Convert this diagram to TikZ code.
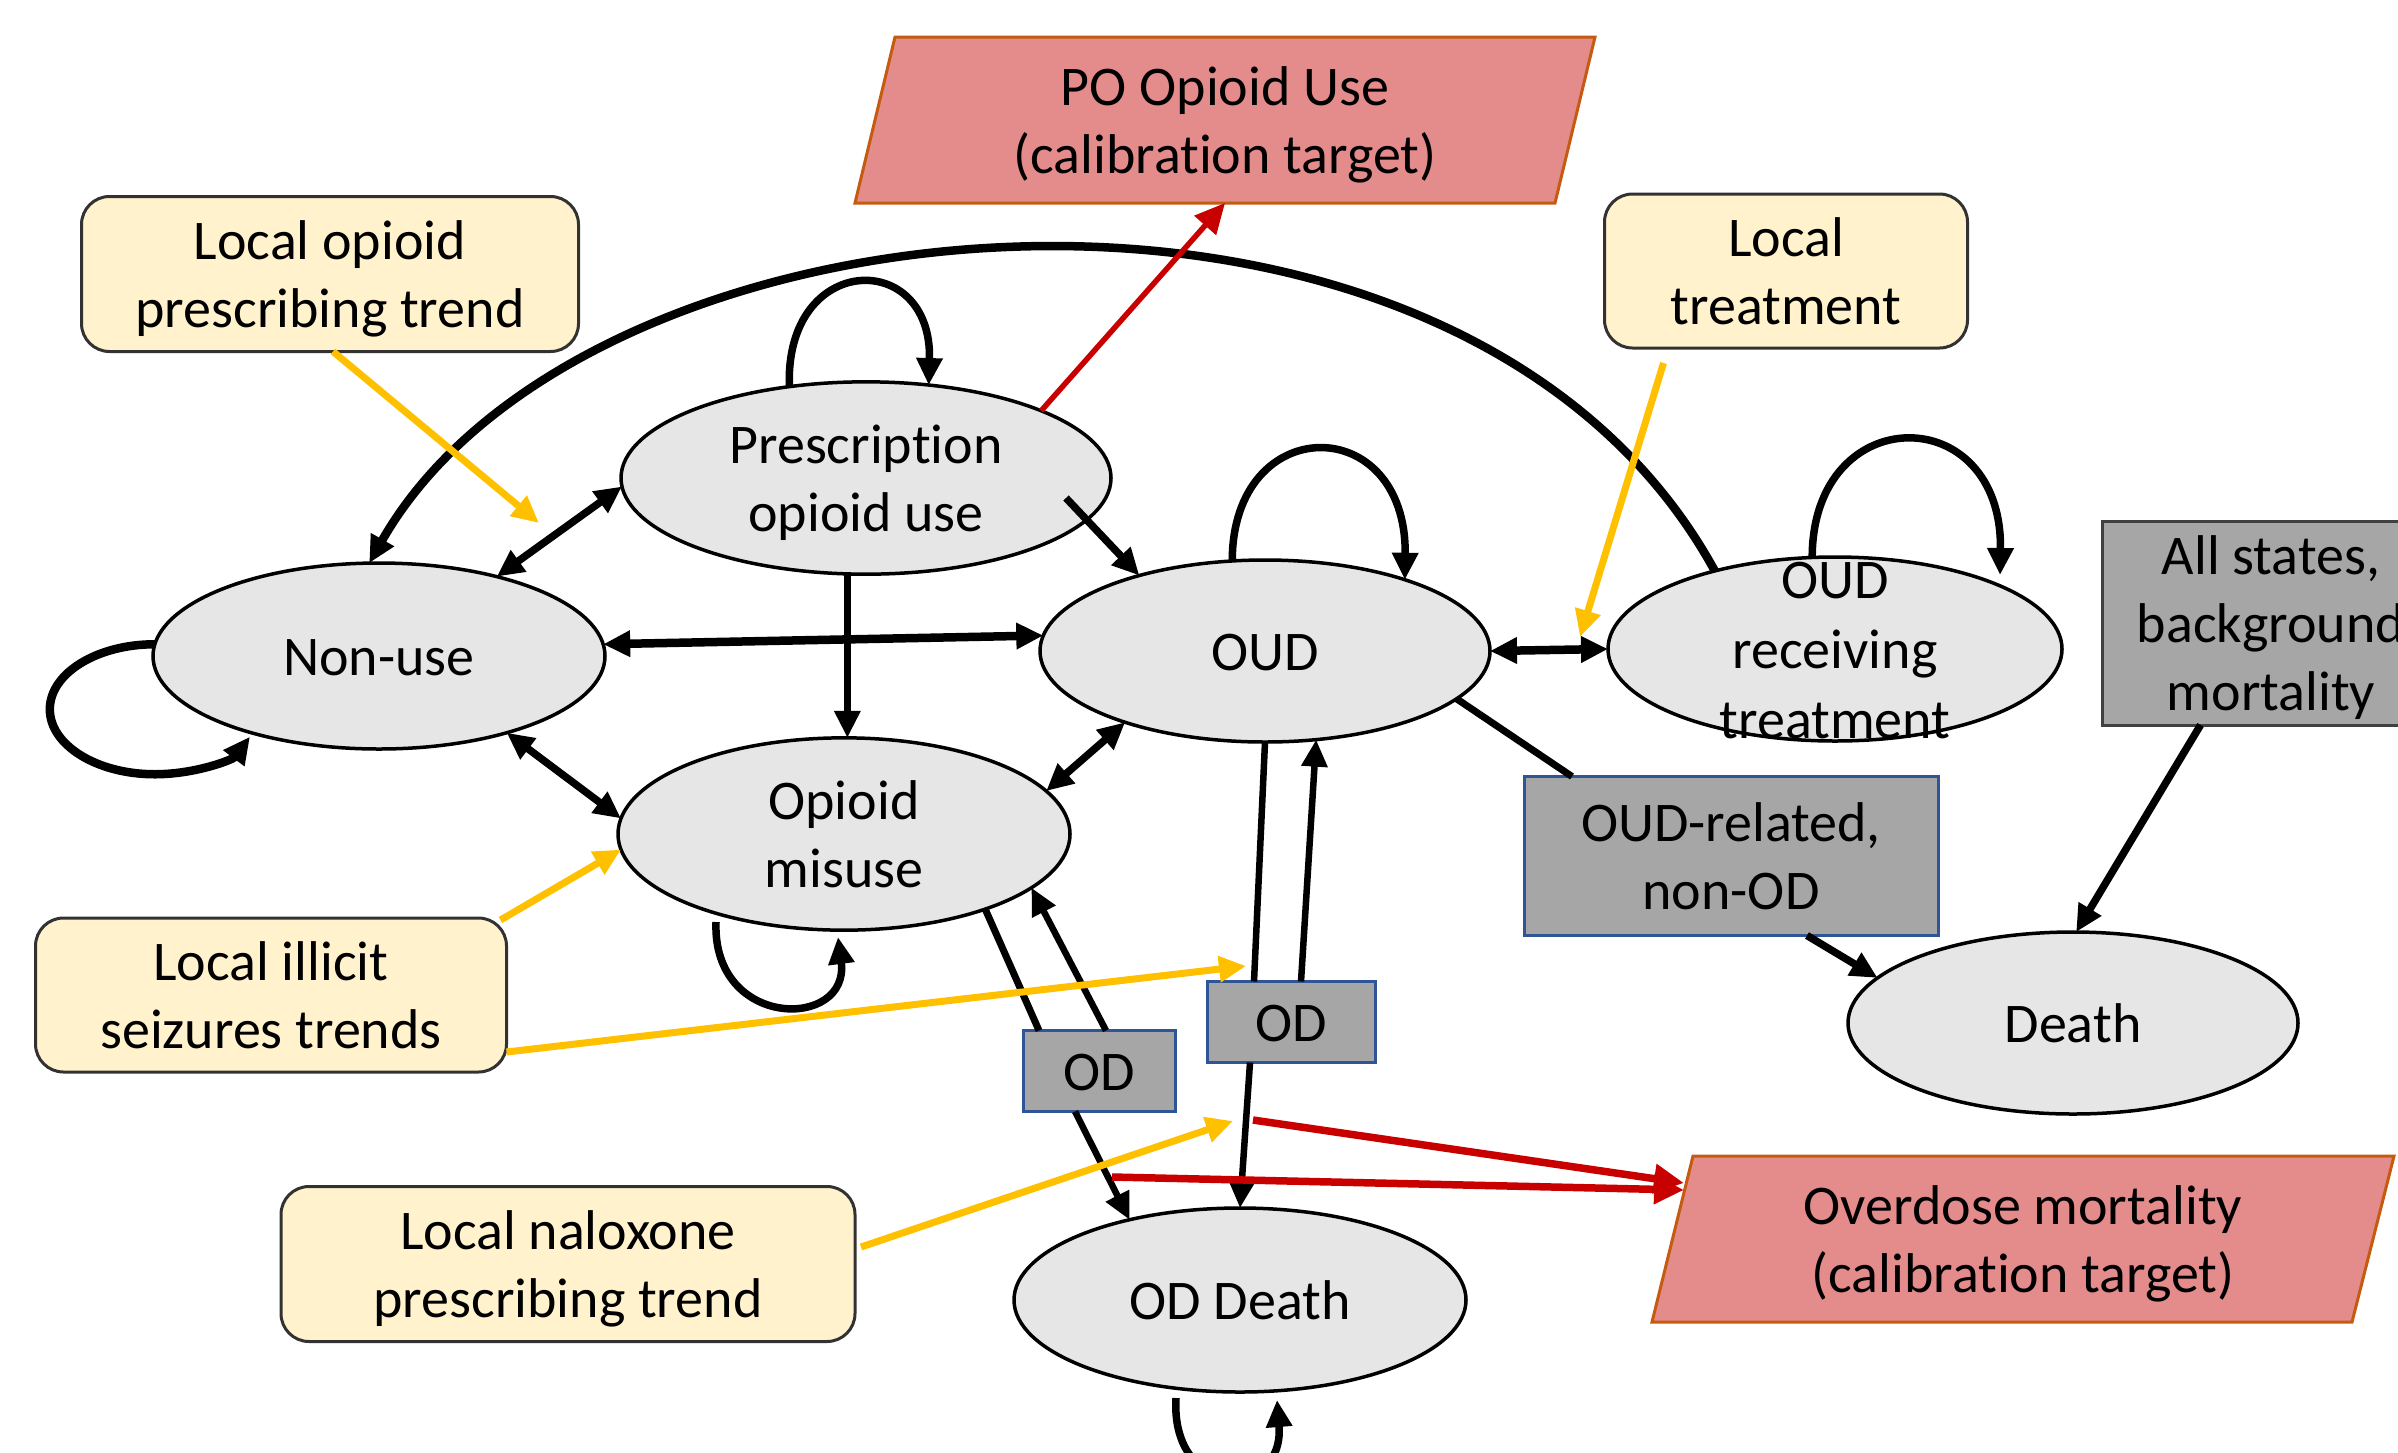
\documentclass[tikz,border=0pt]{standalone}
\usepackage{fontspec}
\setmainfont[Ligatures=CommonOff]{Carlito}
\usetikzlibrary{shapes.geometric,arrows.meta,calc}
\definecolor{ellfill}{RGB}{230,230,230}
\definecolor{yfill}{RGB}{255,242,204}
\definecolor{ybord}{RGB}{50,50,50}
\definecolor{gfill}{RGB}{166,166,166}
\definecolor{bbord}{RGB}{47,85,151}
\definecolor{dbord}{RGB}{64,64,64}
\definecolor{tfill}{RGB}{228,139,139}
\definecolor{tbord}{RGB}{197,90,17}
\definecolor{yel}{RGB}{255,192,0}
\definecolor{redc}{RGB}{200,0,0}
\newcommand{\bigfont}{\fontsize{56}{68}\selectfont}
\newcommand{\onestrut}{\rule[-14.5pt]{0pt}{68pt}}
\newcommand{\twostrut}{\rule[-14.5pt]{0pt}{136pt}}
\newcommand{\threestrut}{\rule[-14.5pt]{0pt}{204pt}}
\newcommand{\threestrutw}{\rule[-14.5pt]{0pt}{208pt}}
\begin{document}
\begin{tikzpicture}[x=1pt,y=-1pt,
  basetxt/.style={align=center, font=\bigfont, inner sep=0pt, outer sep=0pt},
  txt/.style={basetxt, execute at begin node=\twostrut},
  txtone/.style={basetxt, execute at begin node=\onestrut},
  txtthree/.style={basetxt, execute at begin node=\threestrut},
  stateshape/.style={ellipse, draw=black, line width=3.5pt, fill=ellfill},
  state/.style={txt, stateshape},
  stateone/.style={txtone, stateshape},
  box/.style={txt, rectangle, line width=3pt},
  ybox/.style={box, draw=ybord, fill=yfill, rounded corners=28pt},
  gbox/.style={box, draw=bbord, fill=gfill},
  gboxone/.style={txtone, rectangle, line width=3pt, draw=bbord, fill=gfill},
  tgtshape/.style={fill=tfill, draw=tbord, line width=3pt},
  arr/.style={line width=7.5pt, -{Triangle[length=27pt,width=25pt]}},
  darr/.style={line width=7.5pt, {Triangle[length=27pt,width=25pt]}-{Triangle[length=27pt,width=25pt]}},
  plainln/.style={line width=7pt},
  yarr/.style={line width=7pt, draw=yel, color=yel, -{Triangle[length=27pt,width=25pt]}},
  rarr/.style={line width=7.5pt, draw=redc, color=redc, -{Triangle[length=30pt,width=28pt]}}
]
\useasboundingbox (0,0) rectangle (2398,1452);

% calibration targets
\filldraw[tgtshape] (855,203) -- (895,37) -- (1595,37) -- (1555,203) -- cycle;
\node[txt, minimum height=166pt, minimum width=660pt] (pot) at (1225,120) {PO Opioid Use\\(calibration target)};
\filldraw[tgtshape] (1652,1322) -- (1693,1156) -- (2394,1156) -- (2352,1322) -- cycle;
\node[txt, minimum height=166pt, minimum width=660pt] (odm) at (2023,1239) {Overdose mortality\\(calibration target)};
\coordinate (odmin) at (1684,1186);

% states
\node[stateone, minimum width=452pt, minimum height=186pt] (nonuse) at (379,656) {Non-use};
\node[state, minimum width=490pt, minimum height=186pt] (presc) at (866,478) {Prescription\\opioid use};
\node[stateone, minimum width=450pt, minimum height=182pt] (oud) at (1265,651) {OUD};
\node[stateone, minimum width=454pt, minimum height=184pt,
  label={[basetxt, font=\fontsize{56}{70}\selectfont, execute at begin node=\threestrutw]center:OUD\\receiving\\treatment}] (treat) at (1835,649) {};
\node[state, minimum width=452pt, minimum height=182pt] (mis) at (844,834) {Opioid\\misuse};
\node[stateone, minimum width=452pt, minimum height=184pt] (oddeath) at (1240,1300) {OD Death};
\node[stateone, minimum width=450pt, minimum height=182pt] (death) at (2073,1023) {Death};

% influence boxes
\node[ybox, minimum width=497pt, minimum height=155pt] (lop) at (330,274) {Local opioid\\prescribing trend};
\node[ybox, minimum width=363pt, minimum height=154pt] (ltr) at (1786,271) {Local\\treatment};
\node[ybox, minimum width=471pt, minimum height=154pt] (lill) at (271,995) {Local illicit\\seizures trends};
\node[ybox, minimum width=574pt, minimum height=155pt] (lnal) at (568,1264) {Local naloxone\\prescribing trend};

% gray boxes
\node[gboxone, minimum width=152pt, minimum height=81pt] (od1) at (1099,1071) {OD};
\node[gboxone, minimum width=168pt, minimum height=81pt] (od2) at (1291,1022) {OD};
\node[gbox, minimum width=414pt, minimum height=159pt] (nonod) at (1731,856) {OUD-related,\\non-OD};
\node[txtthree, rectangle, line width=3pt, draw=dbord, fill=gfill, minimum width=337pt, minimum height=199pt] (allst) at (2271,623) {All states,\\background\\mortality};

% free ends
\coordinate (y1) at (539,523);
\coordinate (y2) at (1580,637);
\coordinate (y3) at (1246,966);
\coordinate (y4) at (1233,1121);
\coordinate (r1) at (1253,1120);
\coordinate (r2) at (1112,1177);

% self loops
\draw[arr, line width=8.5pt] (nonuse.177) arc[start angle=90, end angle=335, x radius=105pt, y radius=65pt];
\draw[arr] (presc.130) .. controls ($(presc.130)+(-5,-135)$) and ($(presc.56)+(4,-137)$) .. (presc.56);
\draw[arr] (oud.110) .. controls ($(oud.110)+(0,-150)$) and ($(oud.27)+(2,-169)$) .. (oud.27);
\draw[arr] (treat.104.7) .. controls ($(treat.104.7)+(0,-158)$) and ($(treat.center)+(168,-250)$) .. ($(treat.center)+(165,-74)$);
\draw[arr] ($(mis.center)+(-128,88)$) .. controls ($(mis.center)+(-132,196)$) and ($(mis.center)+(6,196)$) .. ($(mis.center)+(-6,103)$);
\draw[arr] ($(oddeath.center)+(-64,98)$) .. controls ($(oddeath.center)+(-70,200)$) and ($(oddeath.center)+(45,200)$) .. ($(oddeath.center)+(37,100)$);

% big arc
\draw[arr, line width=8.5pt] (treat.147) .. controls ($(treat.147)+(-255,-466)$) and ($(nonuse.96)+(217,-382)$) .. (nonuse.96);

% transitions
\draw[darr] (nonuse.34.5) -- (presc.182);
\draw[arr] ($(presc.center)+(200,20)$) -- (oud.149.5);
\draw[arr, line width=6.5pt] (presc.259.6) -- (presc.259.6 |- mis.north);
\draw[darr, line width=8.5pt] (nonuse.3.7) -- (oud.176.4);
\draw[darr] (nonuse.-31.6) -- (mis.176.8);
\draw[darr] (oud.207.5) -- (mis.12.8);
\draw[darr, line width=8.5pt] (oud.east) -- (treat.west);
\draw[plainln] (oud.-14) -- ($(nonod.north west)+(48,0)$);
\draw[arr] ($(nonod.south west)+(283,0)$) -- (death.167);
\draw[arr] ($(allst.south west)+(98,0)$) -- (death.88);
\draw[plainln] (mis.-28.5) -- ($(od1.north west)+(16,0)$);
\draw[arr, line width=6.5pt] ($(od1.north west)+(83,0)$) -- (mis.-16.2);
\draw[arr, line width=6.5pt] ($(od1.south west)+(52,0)$) -- (oddeath.144.8);
\draw[plainln, line width=6.5pt] (oud.south) -- ($(od2.north west)+(47,0)$);
\draw[arr, line width=6.5pt] ($(od2.north west)+(94,0)$) -- (oud.-60.6);
\draw[arr, line width=6.5pt] ($(od2.south west)+(43,0)$) -- (oddeath.north);

% calibration arrows
\draw[rarr, line width=5.5pt] (presc.21) -- (pot.south);
\draw[rarr] (r1) -- ($(odmin)+(0,-3)$);
\draw[rarr] (r2) -- ($(odmin)+(0,4)$);

% influence arrows
\draw[yarr] ($(lop.south)+(3,0)$) -- (y1);
\draw[yarr] ($(ltr.south west)+(59,15)$) -- (y2);
\draw[yarr] ($(lill.north east)+(-6,2)$) -- (mis.184.4);
\draw[yarr] ($(lill.east)+(0,57)$) -- (y3);
\draw[yarr] ($(lnal.east)+(6,-17)$) -- (y4);
\end{tikzpicture}
\end{document}
